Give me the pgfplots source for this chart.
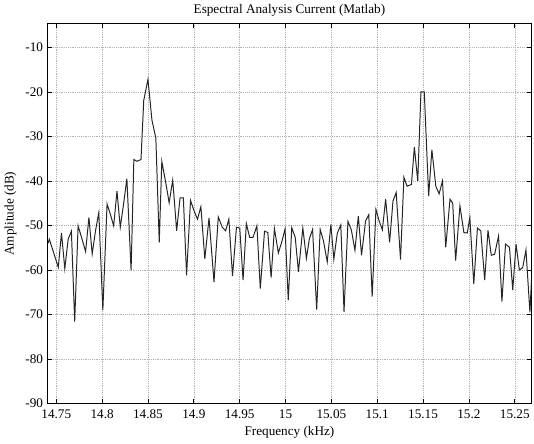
\documentclass[border=0pt]{standalone}
\usepackage{fontspec}
\setmainfont{Liberation Serif}
\usepackage{pgfplots}
\pgfplotsset{compat=1.18}
\begin{document}
\begin{tikzpicture}
\begin{axis}[
  scale only axis,
  width=366.75pt, height=288pt,
  xmin=14.7406, xmax=15.268,
  ymin=-90, ymax=-4.7,
  xtick={14.75,14.8,14.85,14.9,14.95,15,15.05,15.1,15.15,15.2,15.25},
  xticklabels={14.75,14.8,14.85,14.9,14.95,15,15.05,15.1,15.15,15.2,15.25},
  ytick={-90,-80,-70,-60,-50,-40,-30,-20,-10},
  yticklabels={-90,-80,-70,-60,-50,-40,-30,-20,-10},
  tick align=inside,
  major tick length=3.5pt,
  tick style={black, line width=0.5pt},
  axis line style={black, line width=0.7pt},
  grid=major,
  major grid style={densely dotted, gray!60, line width=0.4pt},
  xticklabel style={font=\fontsize{10}{12}\selectfont, yshift=-1.5pt},
  yticklabel style={font=\fontsize{10}{12}\selectfont},
  title={Espectral Analysis Current (Matlab)},
  title style={at={(0.5,1)}, anchor=base, yshift=1.8pt, inner sep=0pt, font=\fontsize{10}{12}\selectfont},
  xlabel={Frequency (kHz)},
  ylabel={Amplitude (dB)},
  xlabel style={font=\fontsize{10}{12}\selectfont, yshift=1pt},
  ylabel style={font=\fontsize{10}{12}\selectfont},
]
\addplot[black!85, line width=0.75pt] table {
x y
14.7410 -54.0
14.7424 -53.1
14.7522 -59.4
14.7557 -51.7
14.7593 -59.7
14.7630 -53.1
14.7665 -51.3
14.7701 -71.6
14.7738 -50.1
14.7776 -52.7
14.7820 -55.9
14.7856 -48.2
14.7892 -56.4
14.7928 -51.2
14.7964 -47.1
14.8008 -69.0
14.8054 -45.2
14.8090 -47.5
14.8126 -50.1
14.8162 -42.3
14.8198 -50.4
14.8234 -45.2
14.8270 -39.5
14.8316 -60.1
14.8346 -35.2
14.8381 -35.6
14.8424 -35.2
14.8454 -21.9
14.8500 -17.2
14.8543 -26.3
14.8586 -30.4
14.8623 -53.8
14.8651 -35.6
14.8694 -40.4
14.8731 -44.9
14.8770 -39.8
14.8813 -51.2
14.8850 -43.8
14.8886 -43.8
14.8921 -61.2
14.8964 -44.4
14.9004 -46.8
14.9040 -48.6
14.9077 -45.8
14.9120 -57.5
14.9166 -48.3
14.9220 -62.7
14.9267 -48.1
14.9310 -50.4
14.9347 -51.2
14.9382 -48.6
14.9422 -61.4
14.9465 -50.4
14.9501 -50.6
14.9537 -62.3
14.9573 -49.6
14.9609 -52.7
14.9645 -52.7
14.9688 -50.1
14.9725 -64.2
14.9771 -51.3
14.9807 -51.6
14.9843 -61.7
14.9879 -50.7
14.9922 -56.2
14.9962 -53.5
14.9995 -50.8
15.0030 -66.8
15.0068 -50.5
15.0106 -52.7
15.0141 -60.4
15.0189 -50.6
15.0228 -57.4
15.0260 -53.0
15.0295 -50.9
15.0340 -68.9
15.0378 -50.9
15.0414 -53.5
15.0455 -58.2
15.0495 -49.8
15.0527 -57.6
15.0564 -51.8
15.0603 -49.9
15.0638 -69.4
15.0681 -49.1
15.0718 -51.0
15.0757 -55.6
15.0794 -47.9
15.0829 -56.7
15.0873 -49.0
15.0908 -47.6
15.0945 -66.0
15.0986 -46.4
15.1021 -49.0
15.1056 -51.0
15.1092 -44.1
15.1135 -53.8
15.1172 -44.5
15.1207 -42.6
15.1254 -57.7
15.1291 -39.2
15.1326 -41.2
15.1373 -40.8
15.1405 -32.4
15.1442 -40.0
15.1477 -20.0
15.1513 -20.0
15.1561 -43.4
15.1596 -33.0
15.1639 -41.2
15.1675 -42.9
15.1712 -40.0
15.1747 -54.9
15.1794 -44.1
15.1823 -45.0
15.1855 -57.9
15.1902 -45.6
15.1945 -51.6
15.1982 -51.7
15.2010 -48.2
15.2053 -63.1
15.2093 -50.6
15.2129 -51.2
15.2172 -62.3
15.2208 -51.1
15.2244 -56.7
15.2280 -56.5
15.2323 -52.4
15.2360 -67.1
15.2399 -54.2
15.2442 -54.9
15.2478 -64.5
15.2514 -54.2
15.2550 -60.0
15.2586 -59.5
15.2622 -55.5
15.2665 -69.5
15.2694 -57.6
};
\end{axis}
\path (current axis.south west) ++(-33pt,-27.75pt) rectangle ++(400.5pt,333.75pt);
\end{tikzpicture}
\end{document}
